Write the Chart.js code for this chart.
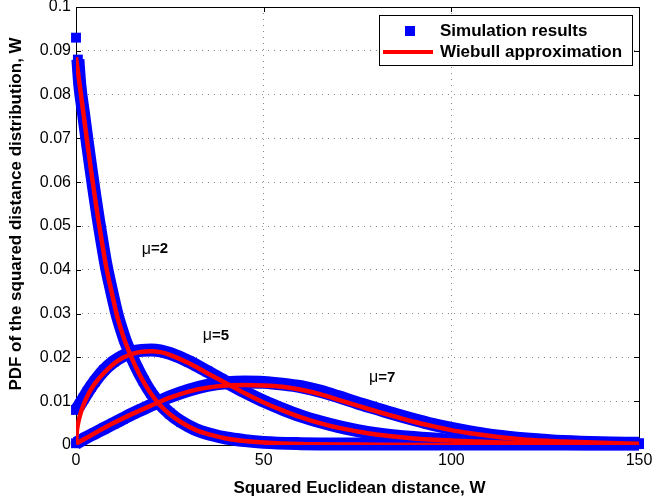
<!DOCTYPE html>
<html>
<head>
<meta charset="utf-8">
<script src="https://cdn.jsdelivr.net/npm/chart.js@4.4.1/dist/chart.umd.min.js"></script>
<style>
  html, body { margin: 0; padding: 0; background: #ffffff; }
  #wrap { width: 653px; height: 498px; }
</style>
</head>
<body>
<div id="wrap"><canvas id="pdf" width="653" height="498"></canvas></div>
<script>
// ---- axis ticks ----
const xTickLabels = ['0', '50', '100', '150'];
const yTickLabels = ['0', '0.01', '0.02', '0.03', '0.04', '0.05', '0.06', '0.07', '0.08', '0.09', '0.1'];

// ---- legend / annotation text ----
const seriesNames = ['Simulation results', 'Wiebull approximation'];
const muNames = ['2', '5', '7'];

// ---- Weibull approximation, mu = 2 ----
const fitX2 = [0, 1, 2, 3, 4, 5, 6, 7, 8, 9, 10, 11, 12, 13, 14, 15, 16, 18, 20, 22, 25, 28, 32, 36, 40, 45, 50, 60, 75, 100, 125, 150];
const fitY2 = [0.0885, 0.0821, 0.0756, 0.0691, 0.0628, 0.0568, 0.0511, 0.0459, 0.0409, 0.0368, 0.0330, 0.0293, 0.0264, 0.0238, 0.0216, 0.0196, 0.0177, 0.0144, 0.0117, 0.0095, 0.0070, 0.0052, 0.0034, 0.0023, 0.0015, 0.0009, 0.00055, 0.0002, 0.0001, 0, 0, 0];

// ---- Weibull approximation, mu = 5 ----
const fitX5 = [0, 0.25, 0.5, 1, 2, 3, 4, 5, 7.5, 10, 12.5, 15, 17.5, 20, 22.5, 25, 30, 35, 40, 45, 50, 55, 60, 65, 70, 75, 80, 90, 100, 110, 120, 135, 150];
const fitY5 = [0.0004, 0.0033, 0.0047, 0.0066, 0.0092, 0.0111, 0.0127, 0.0140, 0.0165, 0.0185, 0.0199, 0.0208, 0.0213, 0.0214, 0.0212, 0.0206, 0.0187, 0.0164, 0.0141, 0.0118, 0.0097, 0.0079, 0.0063, 0.0050, 0.0039, 0.0031, 0.0024, 0.0015, 0.0010, 0.0007, 0.0004, 0.0002, 0.0001];

// ---- Weibull approximation, mu = 7 ----
const fitX7 = [0, 5, 10, 15, 20, 25, 30, 35, 40, 45, 50, 55, 60, 65, 70, 75, 80, 85, 90, 95, 100, 105, 110, 115, 120, 130, 140, 150];
const fitY7 = [0.0003, 0.0027, 0.0050, 0.0071, 0.0090, 0.0108, 0.0122, 0.0131, 0.0136, 0.0137, 0.0136, 0.0133, 0.0126, 0.0116, 0.0103, 0.0090, 0.0077, 0.0065, 0.0053, 0.0043, 0.0034, 0.0027, 0.0021, 0.0016, 0.0012, 0.0008, 0.0005, 0.0003];

// ---- simulated histogram, mu = 2 ----
const simX2 = [0, 0.5, 1, 2, 3, 4, 5, 6, 7, 8, 9, 10, 11, 12, 13, 14, 15, 16, 18, 20, 22, 25, 28, 32, 36, 40, 45, 50, 60, 70, 80, 90, 100, 110, 120, 130, 140, 150];
const simY2 = [0.0930, 0.0880, 0.0823, 0.0757, 0.0692, 0.0630, 0.0570, 0.0513, 0.0461, 0.0411, 0.0370, 0.0332, 0.0296, 0.0267, 0.0241, 0.0219, 0.0199, 0.0180, 0.0147, 0.0119, 0.0097, 0.0072, 0.0053, 0.0035, 0.0024, 0.0016, 0.0010, 0.0006, 0.0003, 0.0002, 0.0002, 0.0002, 0.0002, 0.0002, 0.0002, 0.0002, 0.0002, 0.0002];

// ---- simulated histogram, mu = 5 ----
const simX5 = [0, 1, 2, 3, 4, 5, 7.5, 10, 12.5, 15, 17.5, 20, 22.5, 25, 30, 35, 40, 45, 50, 55, 60, 65, 70, 75, 80, 90, 100, 110, 120, 135, 150];
const simY5 = [0.0080, 0.0092, 0.0106, 0.0120, 0.0133, 0.0145, 0.0171, 0.0190, 0.0203, 0.0212, 0.0216, 0.0217, 0.0215, 0.0209, 0.0191, 0.0168, 0.0144, 0.0121, 0.0100, 0.0082, 0.0066, 0.0053, 0.0042, 0.0033, 0.0026, 0.0017, 0.0011, 0.0007, 0.0005, 0.0003, 0.0003];

// ---- simulated histogram, mu = 7 ----
const simX7 = [0, 2.5, 5, 7.5, 10, 12.5, 15, 17.5, 20, 25, 30, 35, 40, 45, 50, 55, 60, 65, 70, 75, 80, 85, 90, 95, 100, 105, 110, 115, 120, 130, 140, 150];
const simY7 = [0.0004, 0.0016, 0.0027, 0.0038, 0.0049, 0.0060, 0.0071, 0.0081, 0.0091, 0.0110, 0.0125, 0.0136, 0.0142, 0.0144, 0.0143, 0.0139, 0.0133, 0.0123, 0.0110, 0.0096, 0.0083, 0.0070, 0.0058, 0.0047, 0.0038, 0.0030, 0.0023, 0.0018, 0.0014, 0.0008, 0.0005, 0.0004];

const FONT = "'Liberation Sans', Arial, Helvetica, sans-serif";
const BLUE = '#0000ff';
const RED = '#ff0000';

const toPoints = (xs, ys) => xs.map((x, i) => ({ x: x, y: ys[i] }));

function fitSet(xs, ys) {
  return {
    label: seriesNames[1],
    data: toPoints(xs, ys),
    borderColor: RED,
    backgroundColor: RED,
    borderWidth: 4.5,
    pointRadius: 0,
    fill: false,
    cubicInterpolationMode: 'monotone',
    borderJoinStyle: 'round',
    order: 0
  };
}

function simSet(xs, ys, detachFirst) {
  const ds = {
    label: seriesNames[0],
    data: toPoints(xs, ys),
    borderColor: BLUE,
    backgroundColor: BLUE,
    borderWidth: 13,
    pointStyle: 'rect',
    pointRadius: 7,
    pointBorderWidth: 0,
    pointBackgroundColor: BLUE,
    fill: false,
    cubicInterpolationMode: 'monotone',
    borderJoinStyle: 'round',
    clip: false,
    order: 1
  };
  if (detachFirst) {
    // the x = 0 bin stands apart from the rest of the curve
    ds.segment = { borderColor: c => (c.p0DataIndex === 0 ? 'rgba(0,0,0,0)' : undefined) };
  }
  return ds;
}

// box, inward tick marks, legend, curve labels and axis titles
const matlabFrame = {
  id: 'matlabFrame',
  beforeDatasetsDraw(chart) {
    const { ctx, chartArea: a, scales } = chart;
    ctx.save();
    ctx.strokeStyle = '#000';
    ctx.lineWidth = 1;
    ctx.strokeRect(Math.round(a.left) + 0.5, Math.round(a.top) + 0.5,
                   Math.round(a.right - a.left), Math.round(a.bottom - a.top));
    const tl = 5;
    ctx.beginPath();
    scales.x.ticks.forEach(t => {
      const px = Math.round(scales.x.getPixelForValue(t.value)) + 0.5;
      ctx.moveTo(px, a.bottom); ctx.lineTo(px, a.bottom - tl);
      ctx.moveTo(px, a.top); ctx.lineTo(px, a.top + tl);
    });
    scales.y.ticks.forEach(t => {
      const py = Math.round(scales.y.getPixelForValue(t.value)) + 0.5;
      ctx.moveTo(a.left, py); ctx.lineTo(a.left + tl, py);
      ctx.moveTo(a.right, py); ctx.lineTo(a.right - tl, py);
    });
    ctx.stroke();
    ctx.restore();
  },
  afterDatasetsDraw(chart) {
    const { ctx, chartArea: a, scales } = chart;
    ctx.save();

    // curve labels
    const spots = [[21, 0.0447], [37.3, 0.0249], [81.6, 0.0153]];
    ctx.fillStyle = '#000';
    ctx.textBaseline = 'middle';
    spots.forEach((p, i) => {
      const px = scales.x.getPixelForValue(p[0]);
      const py = scales.y.getPixelForValue(p[1]);
      ctx.font = '16px ' + FONT;
      const mu = '\u03bc';
      const w1 = ctx.measureText(mu).width;
      ctx.font = 'bold 15px ' + FONT;
      const rest = '=' + muNames[i];
      const w2 = ctx.measureText(rest).width;
      const x0 = px - (w1 + w2) / 2;
      ctx.font = '16px ' + FONT;
      ctx.textAlign = 'left';
      ctx.fillText(mu, x0, py);
      ctx.font = 'bold 15px ' + FONT;
      ctx.fillText(rest, x0 + w1, py);
    });

    // legend
    const lw = 253, lh = 50;
    const lx = Math.round(a.right) - 7 - lw, ly = Math.round(a.top) + 8;
    ctx.fillStyle = '#fff';
    ctx.fillRect(lx, ly, lw, lh);
    ctx.strokeStyle = '#000';
    ctx.lineWidth = 1;
    ctx.strokeRect(lx + 0.5, ly + 0.5, lw, lh);
    ctx.fillStyle = BLUE;
    ctx.fillRect(lx + 26, ly + 11, 10, 10);
    ctx.strokeStyle = RED;
    ctx.lineWidth = 4;
    ctx.beginPath();
    ctx.moveTo(lx + 4, ly + 37);
    ctx.lineTo(lx + 54, ly + 37);
    ctx.stroke();
    ctx.fillStyle = '#000';
    ctx.font = 'bold 17px ' + FONT;
    ctx.textAlign = 'left';
    ctx.textBaseline = 'middle';
    ctx.fillText(seriesNames[0], lx + 61, ly + 16);
    ctx.fillText(seriesNames[1], lx + 61, ly + 37);

    // axis titles
    ctx.font = 'bold 17px ' + FONT;
    ctx.textAlign = 'center';
    ctx.fillText('Squared Euclidean distance, W', (a.left + a.right) / 2 + 2, 488);
    ctx.translate(16, (a.top + a.bottom) / 2 - 12);
    ctx.rotate(-Math.PI / 2);
    ctx.fillText('PDF of the squared distance distribution, W', 0, 0);
    ctx.restore();
  }
};

new Chart(document.getElementById('pdf'), {
  type: 'line',
  data: {
    datasets: [
      fitSet(fitX2, fitY2),
      fitSet(fitX5, fitY5),
      fitSet(fitX7, fitY7),
      simSet(simX2, simY2, true),
      simSet(simX5, simY5, false),
      simSet(simX7, simY7, false)
    ]
  },
  options: {
    responsive: false,
    animation: false,
    devicePixelRatio: 1,
    layout: { padding: { left: 0, top: 7, right: 14, bottom: 0 } },
    plugins: { legend: { display: false }, tooltip: { enabled: false } },
    scales: {
      x: {
        type: 'linear',
        min: 0, max: 150,
        afterFit: s => { s.height = 53; s.paddingLeft = 0; s.paddingRight = 0; },
        ticks: {
          stepSize: 50,
          autoSkip: false,
          maxRotation: 0,
          padding: 6,
          color: '#000',
          font: { family: FONT, size: 16 },
          callback: v => xTickLabels[Math.round(v / 50)]
        },
        grid: { drawTicks: false, color: '#8a8a8a', lineWidth: 1 },
        border: { display: false, dash: [1, 5] }
      },
      y: {
        type: 'linear',
        min: 0, max: 0.1,
        afterFit: s => { s.width = 76; s.paddingTop = 0; s.paddingBottom = 0; },
        ticks: {
          stepSize: 0.01,
          autoSkip: false,
          padding: 5,
          color: '#000',
          font: { family: FONT, size: 16 },
          callback: v => yTickLabels[Math.round(v * 100)]
        },
        grid: { drawTicks: false, color: '#8a8a8a', lineWidth: 1 },
        border: { display: false, dash: [1, 5] }
      }
    }
  },
  plugins: [matlabFrame]
});
</script>
</body>
</html>
